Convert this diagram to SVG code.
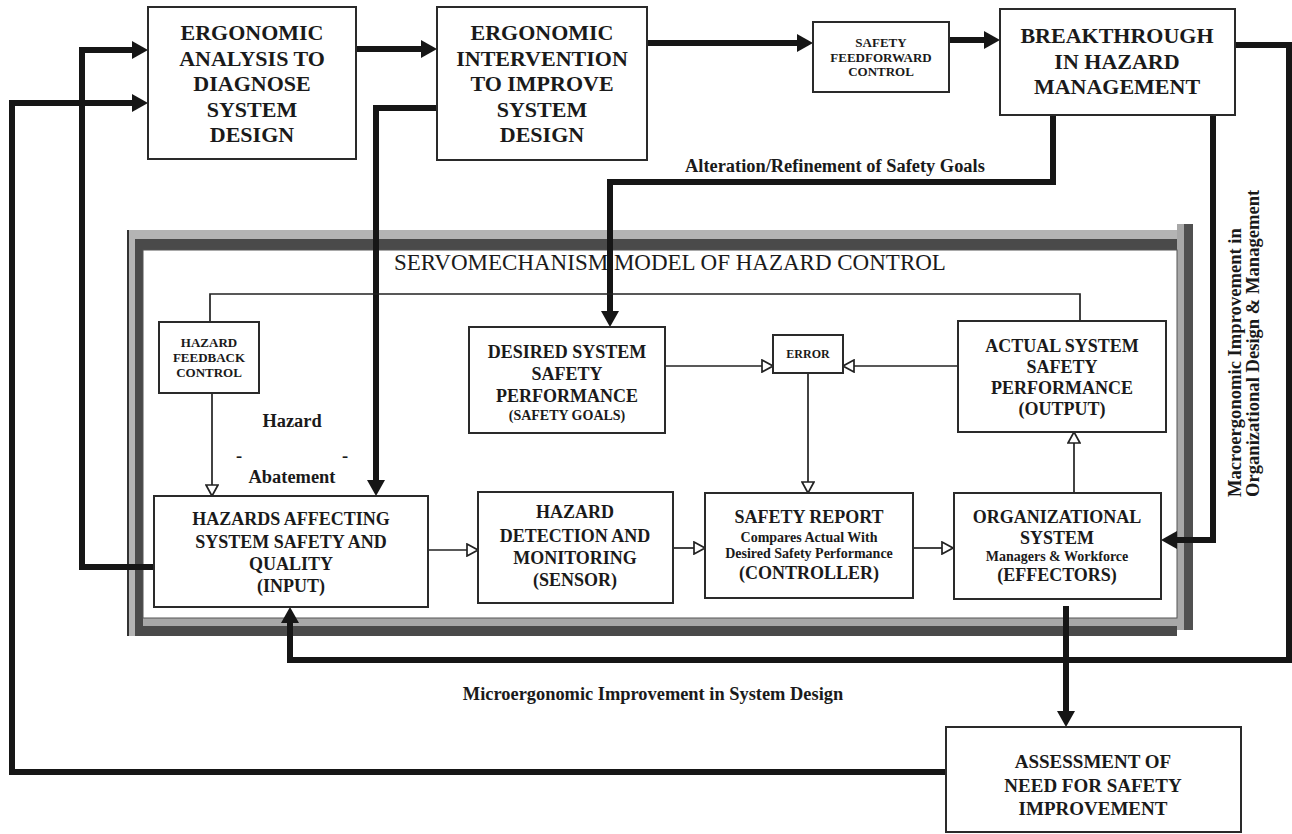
<svg xmlns="http://www.w3.org/2000/svg" width="1292" height="834" viewBox="0 0 1292 834">
  <style>
    .box { fill: #ffffff; stroke: #2a2a2a; stroke-width: 2; }
    .t { font-family: "Liberation Serif", "Times New Roman", serif; font-weight: bold; fill: #1a1a1a; text-anchor: middle; }
    .t22 { font-size: 22px; }
    .t19 { font-size: 19px; }
    .t18 { font-size: 18px; }
    .t14 { font-size: 14px; }
    .t13 { font-size: 13px; }
    .t12 { font-size: 12px; }
    .lbl { font-family: "Liberation Serif", "Times New Roman", serif; font-weight: bold; fill: #1a1a1a; font-size: 18.4px; }
    .vlbl { font-family: "Liberation Serif", "Times New Roman", serif; font-weight: bold; fill: #1a1a1a; font-size: 18.6px; }
    .title { font-family: "Liberation Serif", "Times New Roman", serif; font-size: 23px; fill: #1a1a1a; }
    .thick { fill: none; stroke: #161616; stroke-width: 6; stroke-linejoin: miter; }
    .thin { fill: none; stroke: #222222; stroke-width: 1.7; }
  </style>
  <defs>
    <marker id="solid" viewBox="0 0 16 18" refX="0" refY="9" markerWidth="16" markerHeight="18" markerUnits="userSpaceOnUse" orient="auto">
      <path d="M0,0 L16,9 L0,18 Z" fill="#161616"/>
    </marker>
    <marker id="hollow" viewBox="-1 -1 13 14" refX="0" refY="6" markerWidth="13" markerHeight="14" markerUnits="userSpaceOnUse" orient="auto">
      <path d="M0,0 L11,6 L0,12 Z" fill="#ffffff" stroke="#222222" stroke-width="1.7"/>
    </marker>
  </defs>

  <rect x="0" y="0" width="1292" height="834" fill="#ffffff"/>

  <!-- servomechanism frame: light/dark bevelled border -->
  <g id="frame">
    <rect x="127" y="230" width="8" height="406" fill="#b4b4b4"/>
    <rect x="135" y="238" width="8" height="398" fill="#4a4a4a"/>
    <rect x="127" y="230" width="1050" height="9" fill="#b4b4b4"/>
    <rect x="135" y="239" width="1042" height="11" fill="#4a4a4a"/>
    <rect x="1177" y="224" width="7" height="406" fill="#a8a8a8"/>
    <rect x="1184" y="224" width="9" height="406" fill="#505050"/>
    <rect x="143" y="618" width="1034" height="8" fill="#a8a8a8"/>
    <rect x="135" y="626" width="1042" height="10" fill="#4a4a4a"/>
    <rect x="127" y="230" width="2" height="406" fill="#333"/>
    <rect x="143" y="250" width="1034" height="368" fill="#ffffff" stroke="#555" stroke-width="1"/>
    <text class="title" x="394" y="270">SERVOMECHANISM MODEL OF HAZARD CONTROL</text>
  </g>

  <!-- connectors -->
  <g id="connectors">
    <path class="thick" d="M356,49 H421" marker-end="url(#solid)"/>
    <path class="thick" d="M647,43 H797" marker-end="url(#solid)"/>
    <path class="thick" d="M949,40 H984" marker-end="url(#solid)"/>
    <path class="thick" d="M154,567 H82 V50 H132" marker-end="url(#solid)"/>
    <path class="thick" d="M946,772 H12 V103 H132" marker-end="url(#solid)"/>
    <path class="thick" d="M437,108 H376 V480" marker-end="url(#solid)"/>
    <path class="thick" d="M1053,115 V182 H610 V311" marker-end="url(#solid)"/>
    <path class="thick" d="M1235,45 H1289 V660 H290 V623" marker-end="url(#solid)"/>
    <path class="thick" d="M1213,115 V540 H1177" marker-end="url(#solid)"/>
    <path class="thick" d="M1066,606 V711" marker-end="url(#solid)"/>

    <path class="thin" d="M1080,321 V294 H210 V322"/>
    <path class="thin" d="M212,393 V485" marker-end="url(#hollow)"/>
    <path class="thin" d="M428,550 H467" marker-end="url(#hollow)"/>
    <path class="thin" d="M673,548 H694" marker-end="url(#hollow)"/>
    <path class="thin" d="M913,548 H942" marker-end="url(#hollow)"/>
    <path class="thin" d="M665,366 H762" marker-end="url(#hollow)"/>
    <path class="thin" d="M958,366 H854" marker-end="url(#hollow)"/>
    <path class="thin" d="M808,373 V482" marker-end="url(#hollow)"/>
    <path class="thin" d="M1074,493 V443" marker-end="url(#hollow)"/>

    <text class="lbl" x="685" y="172">Alteration/Refinement of Safety Goals</text>
    <text class="lbl" x="653" y="700" text-anchor="middle">Microergonomic Improvement in System Design</text>
    <text class="vlbl" transform="translate(1241,497) rotate(-90)">Macroergonomic Improvement in</text>
    <text class="vlbl" transform="translate(1259,497) rotate(-90)">Organizational Design &amp; Management</text>
    <text class="lbl" x="292" y="427" text-anchor="middle">Hazard</text>
    <text class="lbl" x="239" y="462" font-size="32" text-anchor="middle">-</text>
    <text class="lbl" x="345" y="462" font-size="32" text-anchor="middle">-</text>
    <text class="lbl" x="292" y="483" text-anchor="middle">Abatement</text>
  </g>

  <g id="ergonomic-analysis">
    <rect class="box" x="148" y="7" width="208" height="152"/>
    <text class="t t22" x="252" y="40">ERGONOMIC</text>
    <text class="t t22" x="252" y="65.5">ANALYSIS TO</text>
    <text class="t t22" x="252" y="91">DIAGNOSE</text>
    <text class="t t22" x="252" y="116.5">SYSTEM</text>
    <text class="t t22" x="252" y="142">DESIGN</text>
  </g>

  <g id="ergonomic-intervention">
    <rect class="box" x="437" y="7" width="210" height="153"/>
    <text class="t t22" x="542" y="40">ERGONOMIC</text>
    <text class="t t22" x="542" y="65.5">INTERVENTION</text>
    <text class="t t22" x="542" y="91">TO IMPROVE</text>
    <text class="t t22" x="542" y="116.5">SYSTEM</text>
    <text class="t t22" x="542" y="142">DESIGN</text>
  </g>

  <g id="safety-feedforward">
    <rect class="box" x="813" y="22" width="136" height="70"/>
    <text class="t t13" x="881" y="47">SAFETY</text>
    <text class="t t13" x="881" y="62">FEEDFORWARD</text>
    <text class="t t13" x="881" y="76">CONTROL</text>
  </g>

  <g id="breakthrough">
    <rect class="box" x="1000" y="9" width="235" height="106"/>
    <text class="t t22" x="1117" y="43">BREAKTHROUGH</text>
    <text class="t t22" x="1117" y="68.5">IN HAZARD</text>
    <text class="t t22" x="1117" y="94">MANAGEMENT</text>
  </g>

  <g id="hazard-feedback">
    <rect class="box" x="159" y="322" width="100" height="71"/>
    <text class="t t13" x="209" y="347">HAZARD</text>
    <text class="t t13" x="209" y="362">FEEDBACK</text>
    <text class="t t13" x="209" y="377">CONTROL</text>
  </g>

  <g id="desired-performance">
    <rect class="box" x="469" y="327" width="196" height="106"/>
    <text class="t t18" x="567" y="358">DESIRED SYSTEM</text>
    <text class="t t18" x="567" y="380">SAFETY</text>
    <text class="t t18" x="567" y="402">PERFORMANCE</text>
    <text class="t t14" x="567" y="420">(SAFETY GOALS)</text>
  </g>

  <g id="error">
    <rect class="box" x="773" y="335" width="70" height="38"/>
    <text class="t t12" x="808" y="358">ERROR</text>
  </g>

  <g id="actual-performance">
    <rect class="box" x="958" y="321" width="208" height="111"/>
    <text class="t t18" x="1062" y="352">ACTUAL SYSTEM</text>
    <text class="t t18" x="1062" y="373">SAFETY</text>
    <text class="t t18" x="1062" y="394">PERFORMANCE</text>
    <text class="t t18" x="1062" y="415">(OUTPUT)</text>
  </g>

  <g id="hazards-input">
    <rect class="box" x="154" y="496" width="274" height="111"/>
    <text class="t t18" x="291" y="525">HAZARDS AFFECTING</text>
    <text class="t t18" x="291" y="548">SYSTEM SAFETY AND</text>
    <text class="t t18" x="291" y="570">QUALITY</text>
    <text class="t t18" x="291" y="592">(INPUT)</text>
  </g>

  <g id="hazard-detection">
    <rect class="box" x="478" y="492" width="195" height="111"/>
    <text class="t t18" x="575" y="518">HAZARD</text>
    <text class="t t18" x="575" y="542">DETECTION AND</text>
    <text class="t t18" x="575" y="564">MONITORING</text>
    <text class="t t18" x="575" y="586">(SENSOR)</text>
  </g>

  <g id="safety-report">
    <rect class="box" x="705" y="493" width="208" height="105"/>
    <text class="t t18" x="809" y="523">SAFETY REPORT</text>
    <text class="t t14" x="809" y="542">Compares Actual  With</text>
    <text class="t t14" x="809" y="558">Desired Safety Performance</text>
    <text class="t t18" x="809" y="579">(CONTROLLER)</text>
  </g>

  <g id="organizational-system">
    <rect class="box" x="954" y="493" width="207" height="106"/>
    <text class="t t18" x="1057" y="523">ORGANIZATIONAL</text>
    <text class="t t18" x="1057" y="544">SYSTEM</text>
    <text class="t t14" x="1057" y="561">Managers &amp; Workforce</text>
    <text class="t t18" x="1057" y="581">(EFFECTORS)</text>
  </g>

  <g id="assessment">
    <rect class="box" x="946" y="727" width="295" height="105"/>
    <text class="t t19" x="1093" y="768">ASSESSMENT OF</text>
    <text class="t t19" x="1093" y="792">NEED FOR SAFETY</text>
    <text class="t t19" x="1093" y="815">IMPROVEMENT</text>
  </g>
</svg>
